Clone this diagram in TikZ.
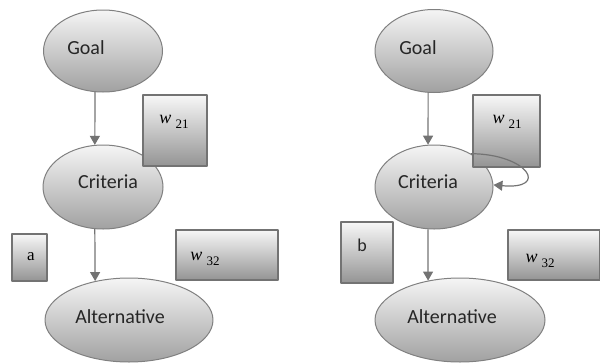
\documentclass[tikz,border=0pt]{standalone}
\usepackage{fontspec}
\setmainfont{Carlito}
\newfontfamily\wfont{Liberation Serif}
\usetikzlibrary{shapes.geometric,arrows.meta}
\tikzset{
	elip/.style={ellipse,draw=black!50,line width=1pt,top color=white!96!black,bottom color=black!37,inner sep=0pt},
	khung/.style={rectangle,draw=black!55,line width=1.3pt,top color=white!97!black,bottom color=black!42,inner sep=0pt},
	muiten/.style={draw=black!55,line width=1.2pt,-{Triangle[width=10pt,length=9pt]}},
	chu/.style={font=\fontsize{20}{22}\selectfont,text=black!85},
}
\newcommand{\wlab}[1]{{\wfont\fontsize{18}{18}\selectfont\itshape w}\hspace{4pt}\raisebox{-5pt}{\wfont\fontsize{13}{13}\selectfont #1}}
\begin{document}
\begin{tikzpicture}[x=1pt,y=-1pt,line join=round]
		\useasboundingbox (0,0) rectangle (600,362);
		% left: a
		\node[elip,minimum width=119pt,minimum height=82pt] (goalA) at (103,51) {};
		\node[elip,minimum width=120pt,minimum height=84pt] (critA) at (103,187) {};
		\node[elip,minimum width=168pt,minimum height=84pt] (altA) at (129,320) {};
		\draw[muiten] (goalA.-101) -- (critA.101);
		\draw[muiten] (critA.-101) -- (altA.131);
		\node[khung,minimum width=64pt,minimum height=71pt] (wA21) at (175,130.5) {};
		\node[khung,minimum width=102pt,minimum height=50pt] (wA32) at (227,255) {};
		\node[khung,minimum width=35pt,minimum height=47pt] (tagA) at (29.5,257.5) {};
		\node[chu] (goalAt) at (86,48) {Goal};
		\node[chu] (critAt) at (108,182) {Criteria};
		\node[chu] (altAt) at (120,317) {Alternative};
		\node (wA21t) at (174,122) {\wlab{21}};
		\node (wA32t) at (205,259) {\wlab{32}};
		\node[font=\wfont\fontsize{17}{17}\selectfont] (tagAt) at (31,257) {a};
		% right: b
		\node[elip,minimum width=118pt,minimum height=83pt] (goalB) at (434,51) {};
		\node[elip,minimum width=118pt,minimum height=84pt] (critB) at (434,187) {};
		\node[elip,minimum width=170pt,minimum height=84pt] (altB) at (460,320) {};
		\draw[muiten] (goalB.-98) -- (critB.98);
		\draw[muiten] (critB.-98) -- (altB.129);
		\node[khung,minimum width=67pt,minimum height=72pt] (wB21) at (506.5,131) {};
		\node[khung,minimum width=92pt,minimum height=50pt] (wB32) at (554,255) {};
		\node[khung,minimum width=52pt,minimum height=61pt] (tagB) at (367,252.5) {};
		\node[chu] (goalBt) at (418,48) {Goal};
		\node[chu] (critBt) at (428,182) {Criteria};
		\node[chu] (altBt) at (452,317) {Alternative};
		\node (wB21t) at (507,122) {\wlab{21}};
		\node (wB32t) at (540,261) {\wlab{32}};
		\node[chu,font=\fontsize{18}{18}\selectfont] (tagBt) at (362,245) {b};
		\draw[muiten] (critB.42) .. controls (528,154) and (550,190) .. (critB.2);
\end{tikzpicture}
\end{document}
